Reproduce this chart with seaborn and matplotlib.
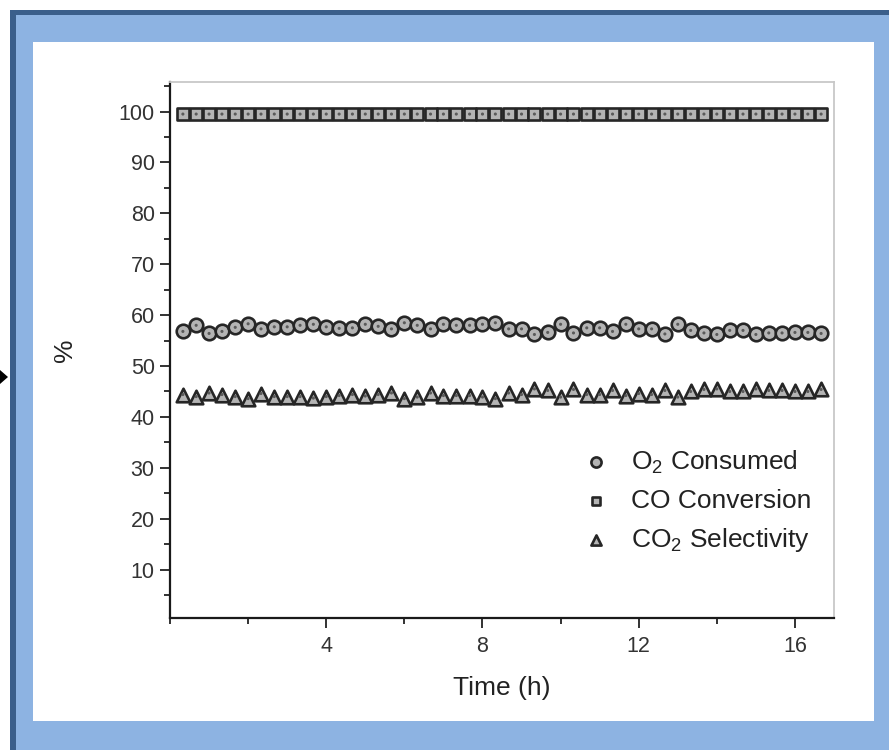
import matplotlib
matplotlib.use("Agg")
import matplotlib.pyplot as plt
import matplotlib.patches as mpatches
from matplotlib.ticker import MultipleLocator
import seaborn as sns
import pandas as pd

# ---------------- data ----------------
time_h = [0.33, 0.67, 1.00, 1.33, 1.67, 2.00, 2.33, 2.67, 3.00, 3.33,
          3.67, 4.00, 4.33, 4.67, 5.00, 5.33, 5.67, 6.00, 6.33, 6.67,
          7.00, 7.33, 7.67, 8.00, 8.33, 8.67, 9.00, 9.33, 9.67, 10.00,
          10.33, 10.67, 11.00, 11.33, 11.67, 12.00, 12.33, 12.67, 13.00, 13.33,
          13.67, 14.00, 14.33, 14.67, 15.00, 15.33, 15.67, 16.00, 16.33, 16.67]

o2_consumed = [56.8, 58.0, 56.4, 56.8, 57.6, 58.3, 57.3, 57.7, 57.7, 58.0,
               58.2, 57.7, 57.4, 57.5, 58.2, 57.8, 57.3, 58.5, 58.0, 57.3,
               58.2, 58.0, 58.0, 58.2, 58.5, 57.3, 57.3, 56.2, 56.6, 58.2,
               56.5, 57.5, 57.5, 56.8, 58.2, 57.3, 57.3, 56.3, 58.2, 57.0,
               56.5, 56.2, 57.0, 57.0, 56.2, 56.5, 56.5, 56.6, 56.6, 56.4]

co_conversion = [99.5, 99.5, 99.5, 99.5, 99.5, 99.5, 99.5, 99.5, 99.5, 99.5,
                 99.5, 99.5, 99.5, 99.5, 99.5, 99.5, 99.5, 99.5, 99.5, 99.5,
                 99.5, 99.5, 99.5, 99.5, 99.5, 99.5, 99.5, 99.5, 99.5, 99.5,
                 99.5, 99.5, 99.5, 99.5, 99.5, 99.5, 99.5, 99.5, 99.5, 99.5,
                 99.5, 99.5, 99.5, 99.5, 99.5, 99.5, 99.5, 99.5, 99.5, 99.5]

co2_selectivity = [44.4, 44.0, 44.7, 44.4, 44.0, 43.6, 44.6, 44.0, 44.0, 44.0,
                   43.7, 44.0, 44.2, 44.4, 44.1, 44.4, 44.7, 43.6, 43.9, 44.7,
                   44.2, 44.2, 44.2, 43.9, 43.6, 44.7, 44.4, 45.5, 45.2, 43.9,
                   45.4, 44.4, 44.4, 45.2, 44.2, 44.6, 44.4, 45.2, 43.9, 45.0,
                   45.4, 45.5, 45.0, 45.0, 45.5, 45.2, 45.2, 45.0, 45.0, 45.4]

series_names = [r"O$_2$ Consumed", "CO Conversion", r"CO$_2$ Selectivity"]
x_ticks = [4, 8, 12, 16]
y_ticks = [10, 20, 30, 40, 50, 60, 70, 80, 90, 100]

df = pd.concat([
    pd.DataFrame({"Time": time_h, "value": o2_consumed, "series": series_names[0]}),
    pd.DataFrame({"Time": time_h, "value": co_conversion, "series": series_names[1]}),
    pd.DataFrame({"Time": time_h, "value": co2_selectivity, "series": series_names[2]}),
], ignore_index=True)

# ---------------- style ----------------
sns.set_theme(style="ticks")
plt.rcParams["font.family"] = ["Liberation Sans", "DejaVu Sans"]
plt.rcParams["mathtext.fontset"] = "custom"
plt.rcParams["mathtext.rm"] = "Liberation Sans"
plt.rcParams["mathtext.it"] = "Liberation Sans"

W, H = 889, 750
fig = plt.figure(figsize=(W / 100, H / 100), dpi=100, facecolor="white")

def px_rect(x0, y0, x1, y1, color):
    fig.patches.append(mpatches.Rectangle((x0 / W, 1 - y1 / H), (x1 - x0) / W, (y1 - y0) / H,
                                          transform=fig.transFigure, facecolor=color,
                                          edgecolor="none", zorder=-10))

px_rect(10, 10, W, H, "#3b5f8b")
px_rect(16, 15, W, H, "#8db3e2")
px_rect(33, 42, 874, 721, "white")
# small arrow head at left edge
fig.patches.append(mpatches.Polygon([(0 / W, 1 - 370 / H), (0 / W, 1 - 384 / H), (8 / W, 1 - 377 / H)],
                                    closed=True, transform=fig.transFigure, facecolor="black",
                                    edgecolor="none", zorder=-5))

ax = fig.add_axes([170 / W, 1 - 618 / H, 664 / W, 536 / H])
ax.set_facecolor("white")

markers = {series_names[0]: "o", series_names[1]: "s", series_names[2]: "^"}
sizes = {series_names[0]: 95, series_names[1]: 70, series_names[2]: 95}

for name in series_names:
    sub = df[df["series"] == name]
    sns.scatterplot(data=sub, x="Time", y="value", marker=markers[name], color="#b4b4b4",
                    edgecolor="#262626", linewidth=1.9, s=sizes[name], ax=ax, label=name, zorder=3)
    sns.scatterplot(data=sub, x="Time", y="value", marker="o", color="#5a5a5a",
                    edgecolor="none", linewidth=0, s=5, ax=ax, legend=False, zorder=4)

ax.set_xlim(0, 17)
ax.set_ylim(0.5, 105.8)
ax.set_xticks(x_ticks)
ax.set_yticks(y_ticks)
ax.xaxis.set_minor_locator(MultipleLocator(2))
ax.yaxis.set_minor_locator(MultipleLocator(5))
ax.tick_params(axis="both", which="major", direction="out", length=7, width=1.3,
               colors="#222222", labelsize=15.5, labelcolor="#333333")
ax.tick_params(axis="x", which="major", pad=6)
ax.tick_params(axis="y", which="major", pad=4)
ax.tick_params(axis="both", which="minor", direction="out", length=4, width=1.3, colors="#222222")

for s in ["left", "bottom"]:
    ax.spines[s].set_color("#1a1a1a")
    ax.spines[s].set_linewidth(1.6)
for s in ["top", "right"]:
    ax.spines[s].set_color("#c8c8c8")
    ax.spines[s].set_linewidth(1.3)

ax.set_xlabel("Time (h)", fontsize=19, color="#222222", labelpad=14)
ax.set_ylabel("%", fontsize=19, color="#222222", labelpad=30)

leg = ax.legend(loc="center", bbox_to_anchor=(0.784, 0.218), frameon=False,
                fontsize=19, handletextpad=0.35, labelspacing=0.5, markerscale=0.75)
for t in leg.get_texts():
    t.set_color("#222222")

fig.savefig("out.png", dpi=100, facecolor="white")
